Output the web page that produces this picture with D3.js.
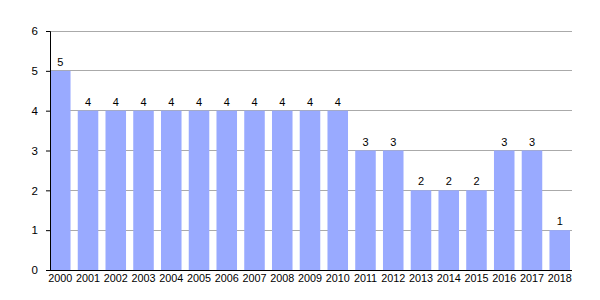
<!DOCTYPE html>
<html><head><meta charset="utf-8">
<script src="https://cdn.jsdelivr.net/npm/d3@7"></script>
<style>body{margin:0;background:#fff}text{font-family:"Liberation Sans",Arial,sans-serif}</style>
</head><body><svg id="c" width="600" height="300"></svg>
<script>
const years = ["2000","2001","2002","2003","2004","2005","2006","2007","2008","2009","2010","2011","2012","2013","2014","2015","2016","2017","2018"];
const values = [5,4,4,4,4,4,4,4,4,4,4,3,3,2,2,2,3,3,1];
const yTicks = [0,1,2,3,4,5,6];

const svg = d3.select("#c");
const x = d3.scaleBand().domain(years).range([50,570]).paddingInner(0.26).paddingOuter(0);
const y = d3.scaleLinear().domain([0,6]).range([270,31]);

svg.append("g").selectAll("line").data(yTicks.filter(d=>d>0)).join("line")
  .attr("x1",50).attr("x2",572).attr("y1",d=>y(d)).attr("y2",d=>y(d))
  .attr("stroke","#aaaaaa").attr("stroke-width",1).attr("shape-rendering","crispEdges");

svg.append("g").selectAll("rect").data(values).join("rect")
  .attr("x",(d,i)=>x(years[i])).attr("width",x.bandwidth())
  .attr("y",d=>y(d)).attr("height",d=>y(0)-y(d)).attr("fill","#99aaff");

svg.append("g").selectAll("text").data(values).join("text")
  .attr("x",(d,i)=>x(years[i])+x.bandwidth()/2).attr("y",d=>y(d)-5)
  .attr("text-anchor","middle").attr("font-size",11).attr("fill","#000").text(d=>d);

const ya = svg.append("g").attr("transform","translate(50,0)")
  .call(d3.axisLeft(y).tickValues(yTicks).tickSize(4).tickPadding(8).tickFormat(d3.format("d")));
ya.select(".domain").attr("stroke","#000");
ya.selectAll("text").attr("font-size",11.5).attr("fill","#000").style("font-family","Liberation Sans, Arial, sans-serif");

const xa = svg.append("g").attr("transform","translate(0,270)")
  .call(d3.axisBottom(x).tickSize(0).tickPadding(4));
xa.select(".domain").attr("d","M50,0.5H572").attr("stroke","#000");
xa.selectAll("text").attr("font-size",10.8).attr("fill","#000").style("font-family","Liberation Sans, Arial, sans-serif");
</script></body></html>
